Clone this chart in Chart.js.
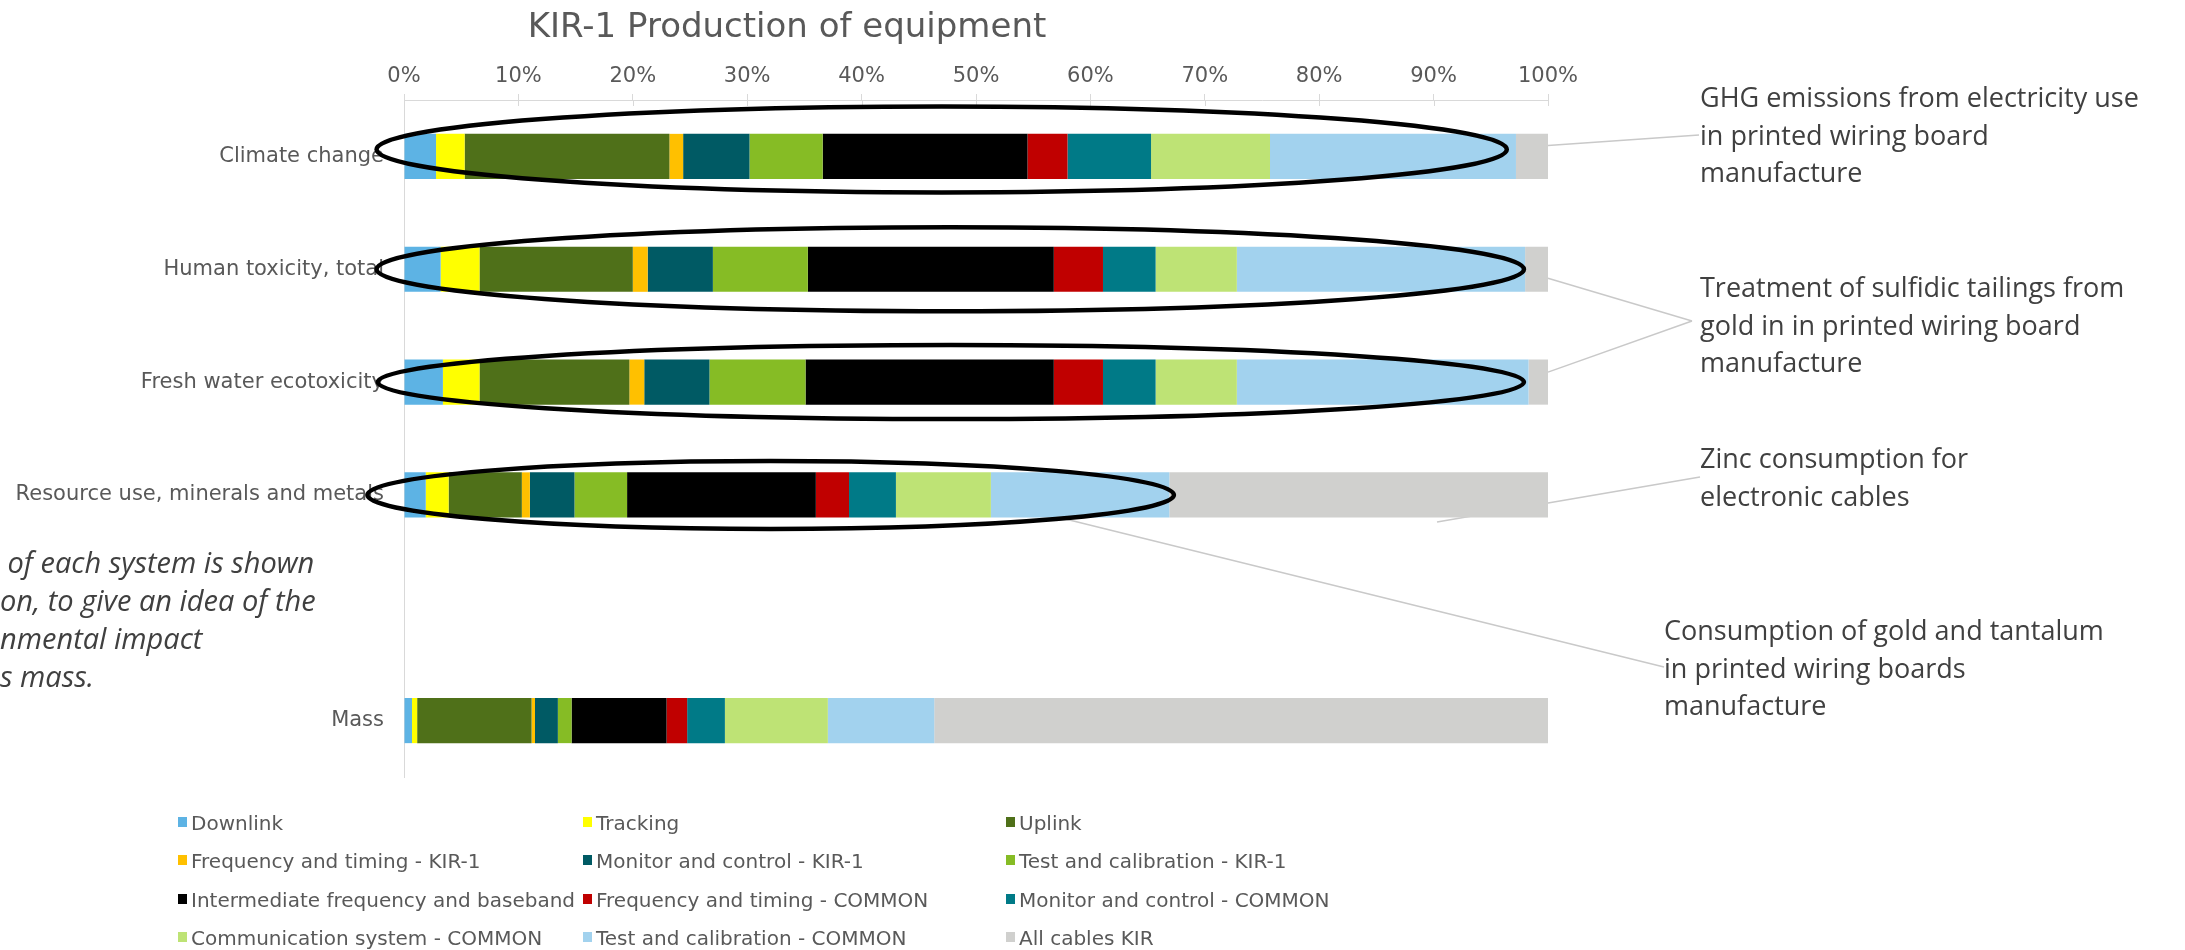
<!DOCTYPE html>
<html>
<head>
<meta charset="utf-8">
<title>KIR-1 Production of equipment</title>
<script src="https://cdn.jsdelivr.net/npm/chart.js@4.4.1/dist/chart.umd.min.js"></script>
<style>
    html, body { margin: 0; padding: 0; background: #fff; }
    #wrap { position: relative; width: 2185px; height: 950px; }
</style>
</head>
<body>
<div id="wrap"><canvas id="chart" width="2185" height="950"></canvas></div>
<script>
// categories (one blank slot between resource use and mass, like the source)
const categories = ['Climate change', 'Human toxicity, total', 'Fresh water ecotoxicity',
    'Resource use, minerals and metals', '', 'Mass'];

// share of each system, % of the category total
const downlink      = [2.8, 3.2, 3.4, 1.9, null, 0.7];
const tracking      = [2.5, 3.4, 3.2, 2.0, null, 0.45];
const uplink        = [17.9, 13.4, 13.1, 6.4, null, 10.0];
const freqTimingKir = [1.2, 1.3, 1.3, 0.7, null, 0.3];
const monitorKir    = [5.8, 5.7, 5.7, 3.9, null, 2.0];
const testCalKir    = [6.4, 8.3, 8.4, 4.6, null, 1.2];
const intermediate  = [17.9, 21.5, 21.7, 16.5, null, 8.3];
const freqTimingCom = [3.5, 4.3, 4.3, 2.9, null, 1.8];
const monitorCom    = [7.3, 4.6, 4.6, 4.1, null, 3.3];
const commSystem    = [10.4, 7.1, 7.1, 8.3, null, 9.0];
const testCalCom    = [21.5, 25.2, 25.5, 15.6, null, 9.3];
const allCables     = [2.8, 2.0, 1.7, 33.1, null, 53.65];

const seriesNames = ['Downlink', 'Tracking', 'Uplink',
    'Frequency and timing - KIR-1', 'Monitor and control - KIR-1', 'Test and calibration - KIR-1',
    'Intermediate frequency and baseband', 'Frequency and timing - COMMON', 'Monitor and control - COMMON',
    'Communication system - COMMON', 'Test and calibration - COMMON', 'All cables KIR'];
const seriesValues = [downlink, tracking, uplink, freqTimingKir, monitorKir, testCalKir,
    intermediate, freqTimingCom, monitorCom, commSystem, testCalCom, allCables];
const seriesColors = ['#5DB3E4', '#FFFF00', '#4F7019', '#FFC000', '#005A64', '#86BC25',
    '#000000', '#C00000', '#007A87', '#BEE375', '#A2D2EE', '#D0D0CE'];

const xTickValues = [0, 10, 20, 30, 40, 50, 60, 70, 80, 90, 100];

// ellipses drawn round the bars (x in %, category index)
const rings = [
    { cat: 0, from: -2.4, to: 96.4, dy: -7, ry: 43 },
    { cat: 1, from: -2.4, to: 97.9, dy: 0, ry: 42 },
    { cat: 2, from: -2.3, to: 97.9, dy: 0, ry: 37 },
    { cat: 3, from: -3.2, to: 67.3, dy: 0, ry: 34 }
];

// callout texts
const callouts = [
    { x: 1700, y: 107, lines: ['GHG emissions from electricity use', 'in printed wiring board', 'manufacture'] },
    { x: 1700, y: 297, lines: ['Treatment of sulfidic tailings from', 'gold in in printed wiring board', 'manufacture'] },
    { x: 1700, y: 468, lines: ['Zinc consumption for', 'electronic cables'] },
    { x: 1664, y: 640, lines: ['Consumption of gold and tantalum', 'in printed wiring boards', 'manufacture'] }
];
const noteLines = [' of each system is shown', 'on, to give an idea of the', 'nmental impact', 's mass.'];

const TEXT_GREY = '#595959';
const NOTE_GREY = '#404040';
const LINE_GREY = '#c9c9c9';

function line(ctx, x1, y1, x2, y2) {
    ctx.beginPath();
    ctx.moveTo(x1, y1);
    ctx.lineTo(x2, y2);
    ctx.stroke();
}

const annotate = {
    id: 'annotate',
    beforeDatasetsDraw(chart) {
        const { ctx, scales: { x, y } } = chart;
        ctx.save();
        ctx.strokeStyle = LINE_GREY;
        ctx.lineWidth = 1.5;
        // zinc leader runs under the cables bar
        line(ctx, x.getPixelForValue(90.3), y.getPixelForValue(3) + 27, 1700, 477);
        ctx.restore();
    },
    afterDatasetsDraw(chart) {
        const { ctx, chartArea, scales: { x, y } } = chart;
        ctx.save();

        // inner half of the cross tick marks
        ctx.strokeStyle = '#d9d9d9';
        ctx.lineWidth = 1;
        xTickValues.forEach(v => {
            const px = Math.round(x.getPixelForValue(v)) + 0.5;
            line(ctx, px, chartArea.top, px, chartArea.top + 6);
        });

        // leader lines
        ctx.strokeStyle = LINE_GREY;
        ctx.lineWidth = 1.5;
        const end = x.getPixelForValue(100);
        line(ctx, end, y.getPixelForValue(0) - 11, 1699, 135);
        line(ctx, end, y.getPixelForValue(1) + 9, 1692, 321);
        line(ctx, end, y.getPixelForValue(2) - 10, 1692, 321);
        line(ctx, x.getPixelForValue(57.1), y.getPixelForValue(3) + 22, 1664, 667);

        // ellipses
        ctx.strokeStyle = '#000';
        ctx.lineWidth = 4.5;
        rings.forEach(r => {
            const x1 = x.getPixelForValue(r.from), x2 = x.getPixelForValue(r.to);
            const cy = y.getPixelForValue(r.cat) + r.dy;
            ctx.beginPath();
            ctx.ellipse((x1 + x2) / 2, cy, (x2 - x1) / 2, r.ry, 0, 0, Math.PI * 2);
            ctx.stroke();
        });
        ctx.restore();
    },
    afterDraw(chart) {
        const { ctx } = chart;
        ctx.save();

        // title
        ctx.fillStyle = TEXT_GREY;
        ctx.font = '34px "DejaVu Sans"';
        ctx.textAlign = 'center';
        ctx.textBaseline = 'alphabetic';
        ctx.fillText('KIR-1 Production of equipment', 787, 37);

        // callouts
        ctx.textAlign = 'left';
        ctx.fillStyle = NOTE_GREY;
        ctx.font = '27px "Open Sans"';
        callouts.forEach(c => {
            c.lines.forEach((t, i) => ctx.fillText(t, c.x, c.y + i * 37.5));
        });

        // clipped note on the left
        ctx.font = 'italic 29px "Open Sans"';
        noteLines.forEach((t, i) => ctx.fillText(t, 0, 573 + i * 38));

        // legend, three columns
        const cols = [178, 583, 1006];
        const rows = [830, 868, 907, 945];
        ctx.font = '20px "DejaVu Sans"';
        chart.data.datasets.forEach((ds, i) => {
            const cx = cols[i % 3], by = rows[Math.floor(i / 3)];
            ctx.fillStyle = ds.backgroundColor;
            ctx.fillRect(cx, by - 13, 9, 10);
            ctx.fillStyle = TEXT_GREY;
            ctx.fillText(ds.label, cx + 13, by);
        });
        ctx.restore();
    }
};

const datasets = seriesNames.map((name, i) => ({
    label: name,
    data: seriesValues[i],
    backgroundColor: seriesColors[i],
    borderWidth: 0,
    barPercentage: 0.4,
    categoryPercentage: 1.0
}));

new Chart(document.getElementById('chart'), {
    type: 'bar',
    data: { labels: categories, datasets: datasets },
    options: {
        indexAxis: 'y',
        responsive: false,
        animation: false,
        devicePixelRatio: 1,
        layout: { padding: { left: 0, right: 637, top: 0, bottom: 173 } },
        plugins: {
            legend: { display: false },
            title: { display: false },
            tooltip: { enabled: false }
        },
        scales: {
            x: {
                position: 'top',
                stacked: true,
                min: 0,
                max: 100,
                afterBuildTicks: scale => { scale.ticks = xTickValues.map(v => ({ value: v })); },
                afterFit: scale => { scale.height = 100; },
                ticks: {
                    callback: v => v + '%',
                    color: TEXT_GREY,
                    font: { family: 'DejaVu Sans', size: 21 },
                    padding: 5,
                    maxRotation: 0
                },
                grid: { drawOnChartArea: false, drawTicks: true, tickLength: 6, color: '#d9d9d9' },
                border: { display: true, color: '#d9d9d9' }
            },
            y: {
                stacked: true,
                afterFit: scale => { scale.width = 404; },
                ticks: {
                    color: TEXT_GREY,
                    font: { family: 'DejaVu Sans', size: 21 },
                    padding: 12
                },
                grid: { display: false },
                border: { display: true, color: '#d9d9d9' }
            }
        }
    },
    plugins: [annotate]
});
</script>
</body>
</html>
